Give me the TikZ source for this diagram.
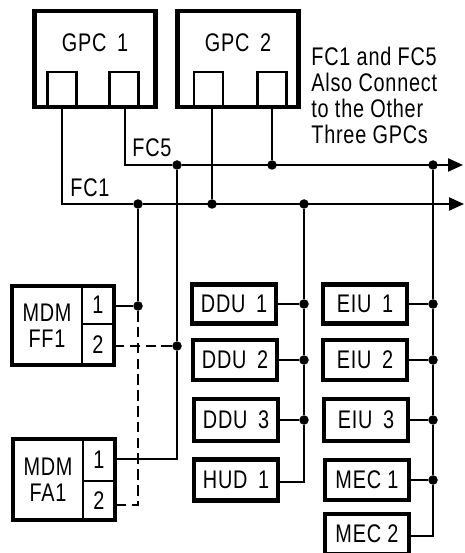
\documentclass[tikz,border=0pt]{standalone}
\usepackage{fontspec}
\setmainfont[FakeStretch=0.78,LetterSpace=3]{Liberation Sans}
\usetikzlibrary{positioning,arrows.meta}

\begin{document}
\begin{tikzpicture}[
  x=0.02cm, y=-0.02cm,
  unitbox/.style={rectangle, draw, line width=2.5pt, inner sep=0pt, minimum width=1.68cm, minimum height=0.8cm, font=\fontsize{14.5}{15}\selectfont},
  gpcbox/.style={rectangle, draw, line width=2.8pt, inner sep=0pt, minimum width=2.42cm, minimum height=1.92cm},
  port/.style={rectangle, draw, line width=1.3pt, inner sep=0pt, minimum width=0.58cm, minimum height=0.68cm},
  mdmbox/.style={rectangle, draw, line width=2.5pt, inner sep=0pt, minimum width=2.04cm},
  cell/.style={rectangle, draw, line width=1.2pt, inner sep=0pt, minimum width=0.64cm, font=\fontsize{14.5}{15}\selectfont},
  lbl/.style={inner sep=0pt, align=center, font=\fontsize{14.5}{14.7}\selectfont},
  dot/.style={circle, fill=black, inner sep=0pt, minimum size=0.19cm},
  wire/.style={line width=1.2pt},
  bus/.style={wire, -{Triangle[length=0.3cm,width=0.26cm]}}
]
\useasboundingbox (0,0) rectangle (464,553);

% computers
\node[gpcbox] (gpc1) at (95,59) {};
\node[lbl] (gpc1l) at (95,43) {GPC\ \,1};
\node[port] (g1a) at (62,89) {};
\node[port] (g1b) at (124,89) {};
\node[gpcbox] (gpc2) at (238,59) {};
\node[lbl] (gpc2l) at (238,43) {GPC\ \,2};
\node[port] (g2a) at (208.5,89) {};
\node[port] (g2b) at (272,89) {};
\node[lbl, align=left, anchor=north west] (note) at (311,47) {FC1 and FC5\\Also Connect\\to the Other\\Three GPCs};

% junctions on the buses
\node[dot] (j51) at (177,165) {};
\node[dot] (j52) at (272,165) {};
\node[dot] (j53) at (433,165) {};
\node[dot] (j11) at (138,204) {};
\node[dot] (j12) at (212,204) {};
\node[dot] (j13) at (304,204) {};
\coordinate (c5) at (125,165);
\coordinate (c1) at (62,204);
\coordinate (e5) at (463,165);
\coordinate (e1) at (464,204);

\draw[wire] (c5 |- g1b.south) -- (c5) -- (j51);
\draw[wire] (g1a) -- (c1) -- (j11);
\draw[bus] (j51) -- (e5);
\draw[bus] (j11) -- (e1);
\draw[wire] (j12 |- g2a.south) -- (j12);
\draw[wire] (g2b) -- (j52);
\node[lbl, anchor=south west] (fc5) at (132,157) {FC5};
\node[lbl, anchor=south west] (fc1) at (70,197) {FC1};

% multiplexers
\node[mdmbox, minimum height=1.58cm] (ff1) at (63,325.5) {};
\node[lbl] (ff1l) at (47,326) {MDM\\FF1};
\node[cell, minimum height=0.76cm] (ff1a) at (98,305) {1};
\node[cell, minimum height=0.82cm] (ff1b) at (98,344.5) {2};
\node[mdmbox, minimum height=1.62cm] (fa1) at (64,479.5) {};
\node[lbl] (fa1l) at (48,480) {MDM\\FA1};
\node[cell, minimum height=0.84cm] (fa1a) at (99,460) {1};
\node[cell, minimum height=0.78cm] (fa1b) at (99,500.5) {2};

\node[dot] (j14) at (138,306) {};
\node[dot] (j54) at (177,346) {};
\coordinate (d1) at (138,505);
\coordinate (d2) at (177,459);
\draw[wire] (j11) -- (j14);
\draw[wire] (j51) -- (j54);
\draw[wire] (j54) -- (d2) -- (d2 -| fa1a.east);
\draw[wire] (j14) -- (j14 -| ff1a.east);
\draw[wire, dash pattern=on 6pt off 3pt] (j14) -- (d1) -- (d1 -| fa1b.east);
\draw[wire, dash pattern=on 6pt off 3pt] (j54) -- (j54 -| ff1b.east);

% display units
\node[unitbox, minimum height=0.78cm] (ddu1) at (234,304) {DDU\ \,1};
\node[unitbox] (ddu2) at (235,360) {DDU\ \,2};
\node[unitbox, minimum height=0.84cm] (ddu3) at (236,420) {DDU\ \,3};
\node[unitbox, minimum height=0.82cm] (hud1) at (236,480) {HUD\ \,1};
\node[dot] (j15) at (304,304) {};
\node[dot] (j16) at (304,360) {};
\node[dot] (j17) at (304,420) {};
\coordinate (h1) at (304,482);
\draw[wire] (j13) -- (j15) -- (j16) -- (j17) -- (h1) -- (h1 -| hud1.east);
\draw[wire] (ddu1) -- (j15);
\draw[wire] (ddu2) -- (j16);
\draw[wire] (ddu3) -- (j17);

% interface units
\node[unitbox, minimum height=0.78cm] (eiu1) at (365,304) {EIU\ \,1};
\node[unitbox] (eiu2) at (365,360) {EIU\ \,2};
\node[unitbox, minimum height=0.84cm] (eiu3) at (366,420) {EIU\ \,3};
\node[unitbox] (mec1) at (367,480) {MEC\ 1};
\node[unitbox] (mec2) at (367,534) {MEC\ 2};
\node[dot] (j55) at (433,304) {};
\node[dot] (j56) at (433,360) {};
\node[dot] (j57) at (433,420) {};
\node[dot] (j58) at (433,480) {};
\coordinate (m2) at (433,536);
\draw[wire] (j53) -- (j55) -- (j56) -- (j57) -- (j58) -- (m2) -- (m2 -| mec2.east);
\draw[wire] (eiu1) -- (j55);
\draw[wire] (eiu2) -- (j56);
\draw[wire] (eiu3) -- (j57);
\draw[wire] (mec1) -- (j58);
\end{tikzpicture}
\end{document}
